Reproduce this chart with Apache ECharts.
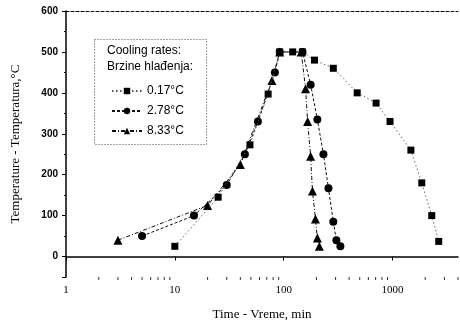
<!DOCTYPE html>
<html><head><meta charset="utf-8">
<script src="https://cdn.jsdelivr.net/npm/echarts@6/dist/echarts.min.js"></script>
<style>html,body{margin:0;padding:0;background:#fff}#c{width:460px;height:326px}</style>
</head><body><div id="c"></div>
<script>
// Data (time in min, temperature in °C)
const seriesNames = ['0.17°C', '2.78°C', '8.33°C'];
const time017 = [10, 25, 49, 72, 92, 121, 149, 192, 286, 474, 707, 949, 1476, 1859, 2295, 2660];
const temp017 = [25, 145, 273, 397, 500, 500, 500, 480, 460, 400, 375, 330, 260, 180, 100, 37];
const time278 = [5, 15, 30, 44, 58, 83, 92, 149, 177, 204, 232, 258, 286, 305, 332];
const temp278 = [50, 100, 175, 250, 330, 450, 500, 500, 420, 335, 250, 167, 85, 40, 25];
const time833 = [3, 20, 40, 78, 92, 145, 159, 166, 177, 184, 196, 204, 213];
const temp833 = [40, 125, 225, 430, 500, 500, 410, 330, 245, 160, 92, 45, 25];
const xMinorTicks = [2,3,4,5,6,7,8,9,20,30,40,50,60,70,80,90,200,300,400,500,600,700,800,900,2000,3000,4000];
const legendHeader = ['Cooling rates:', 'Brzine hlađenja:'];
const xTitle = 'Time - Vreme, min';
const yTitle = 'Temperature - Temperatura,°C';

const zip = (a, b) => a.map((v, i) => [v, b[i]]);
const chart = echarts.init(document.getElementById('c'), null, {renderer: 'canvas'});
const sans = 'Liberation Sans';
const serif = 'Liberation Serif';
const styles = [
  {symbol: 'rect', size: 7, type: [1.5, 2.5], width: 0.9, color: '#555'},
  {symbol: 'circle', size: 8, type: [3, 2], width: 1, color: '#111'},
  {symbol: 'triangle', size: 9, type: [4, 2, 1, 2], width: 1, color: '#111'}
];
const dataSets = [zip(time017, temp017), zip(time278, temp278), zip(time833, temp833)];
const series = dataSets.map((d, i) => ({
  name: seriesNames[i], type: 'line', data: d,
  symbol: styles[i].symbol, symbolSize: styles[i].size, showAllSymbol: true,
  itemStyle: {color: '#000'},
  lineStyle: {color: styles[i].color, width: styles[i].width, type: styles[i].type},
  z: 3 - i
}));
series.push({
  type: 'scatter', data: xMinorTicks.map(v => [v, -50]), symbol: 'rect',
  symbolSize: [1, 3], symbolOffset: [0, 1.5], itemStyle: {color: '#000'},
  silent: true, clip: false, z: 10, legendHoverLink: false
});

chart.setOption({
  animation: false,
  backgroundColor: '#fff',
  grid: {left: 66, right: 2, top: 11, bottom: 46},
  xAxis: [{
    type: 'log', logBase: 10, min: 1, max: 4000,
    name: xTitle, nameLocation: 'middle', nameGap: 31,
    nameTextStyle: {fontFamily: serif, fontSize: 13, color: '#000'},
    axisLine: {lineStyle: {color: '#000', width: 1.5}},
    axisTick: {show: true, length: 4, lineStyle: {color: '#000', width: 1}},
    axisLabel: {fontFamily: serif, fontSize: 11, color: '#000', margin: 8, showMaxLabel: false,
      formatter: v => ([1, 10, 100, 1000].includes(Math.round(v)) ? String(Math.round(v)) : '')},
    splitLine: {show: false}
  }, {
    type: 'log', logBase: 10, min: 1, max: 4000, position: 'top',
    axisLine: {lineStyle: {color: '#000', width: 1, type: [3, 2]}},
    axisTick: {show: false}, axisLabel: {show: false}, splitLine: {show: false}
  }],
  yAxis: {
    type: 'value', min: -50, max: 600, minInterval: 100, maxInterval: 100,
    name: yTitle, nameLocation: 'middle', nameGap: 44, nameRotate: 90,
    nameTextStyle: {fontFamily: serif, fontSize: 13, color: '#000'},
    axisLine: {show: true, lineStyle: {color: '#000', width: 1.5}},
    axisTick: {show: true, length: 4, lineStyle: {color: '#000', width: 1}},
    minorTick: {show: true, splitNumber: 2, length: 2, lineStyle: {color: '#000'}},
    axisLabel: {fontFamily: sans, fontSize: 10, fontWeight: 'bold', color: '#000', margin: 8,
      formatter: v => (v < 0 ? '' : String(v))},
    splitLine: {show: false}
  },
  legend: {
    data: seriesNames, orient: 'vertical', left: 106, top: 80,
    itemWidth: 30, itemHeight: 8, itemGap: 8,
    textStyle: {fontFamily: sans, fontSize: 12, color: '#000'},
    selectedMode: false
  },
  graphic: [
    {type: 'rect', left: 92, top: 37, shape: {width: 112, height: 105},
      style: {fill: 'none', stroke: '#444', lineWidth: 1, lineDash: [1, 2]}, z: 5},
    {type: 'text', left: 107, top: 45, style: {text: legendHeader[0], font: '12px "Liberation Sans"', fill: '#000'}, z: 6},
    {type: 'text', left: 107, top: 61, style: {text: legendHeader[1], font: '12px "Liberation Sans"', fill: '#000'}, z: 6}
  ],
  series: series
});
</script></body></html>
